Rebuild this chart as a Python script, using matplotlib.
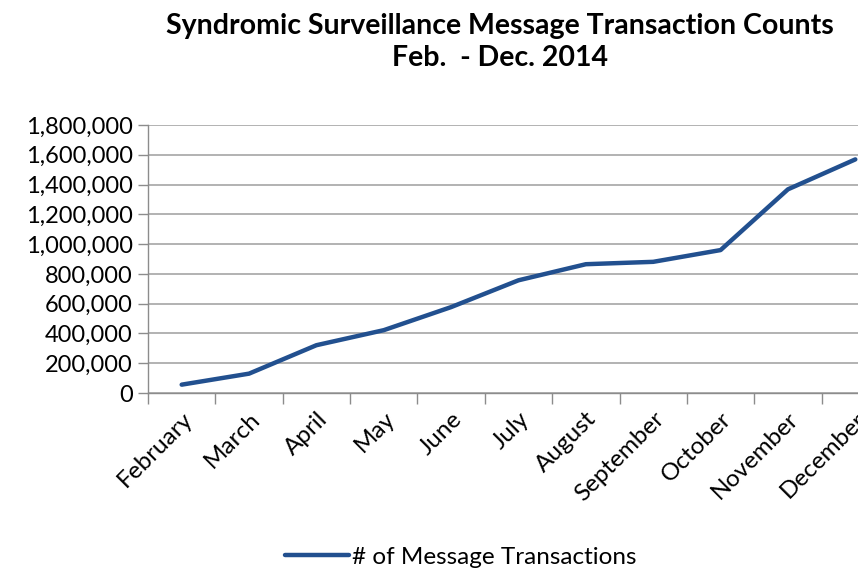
import matplotlib
matplotlib.use("Agg")
import matplotlib.pyplot as plt
from matplotlib.ticker import FuncFormatter, FixedLocator

months = ["February", "March", "April", "May", "June", "July", "August",
          "September", "October", "November", "December"]
transactions = [56000, 130000, 321000, 422000, 577000, 757000, 865000,
                881000, 960000, 1368000, 1569000]
series_name = "# of Message Transactions"
title = "Syndromic Surveillance Message Transaction Counts\nFeb.  - Dec. 2014"

plt.rcParams['font.family'] = ['Lato', 'DejaVu Sans']

W, H = 858, 571
fig = plt.figure(figsize=(W / 100, H / 100), dpi=100)
ax = fig.add_axes([148 / W, (H - 393) / H, (889 - 148) / W, (393 - 125) / H])

x = list(range(len(months)))
line, = ax.plot(x, transactions, color="#22508F", lw=3.2, solid_capstyle="round",
                solid_joinstyle="round", label=series_name, zorder=3)

ax.set_xlim(-0.5, len(months) - 0.5)
ax.set_ylim(0, 1800000)
ax.set_yticks(range(0, 1800001, 200000))
ax.yaxis.set_major_formatter(FuncFormatter(lambda v, p: f"{int(v):,}"))
ax.grid(axis="y", color="#A6A6A6", lw=1.2)
ax.set_axisbelow(True)

ax.set_xticks(x)
ax.set_xticklabels(months, rotation=45, ha="right", rotation_mode="anchor",
                   fontsize=17.5, color="#000000")
ax.xaxis.set_minor_locator(FixedLocator([i - 0.5 for i in range(len(months) + 1)]))
ax.tick_params(axis="x", which="major", length=0, pad=11)
ax.tick_params(axis="x", which="minor", length=8, color="#8C8C8C", width=1)
ax.tick_params(axis="y", length=7, color="#8C8C8C", width=1, labelsize=17, pad=4)

for s in ["top", "right"]:
    ax.spines[s].set_visible(False)
for s in ["left", "bottom"]:
    ax.spines[s].set_color("#8C8C8C")
    ax.spines[s].set_linewidth(1)

fig.text(500 / W, 1 - 42 / H, title, ha="center", va="center", fontsize=20.5,
         fontweight="bold", linespacing=1.3)

fig.legend(handles=[line], loc="center", bbox_to_anchor=(461 / W, 1 - 557 / H),
           frameon=False, fontsize=17.5, handlelength=2.6, handletextpad=0.15,
           borderpad=0)

fig.savefig("out.png", dpi=100)
